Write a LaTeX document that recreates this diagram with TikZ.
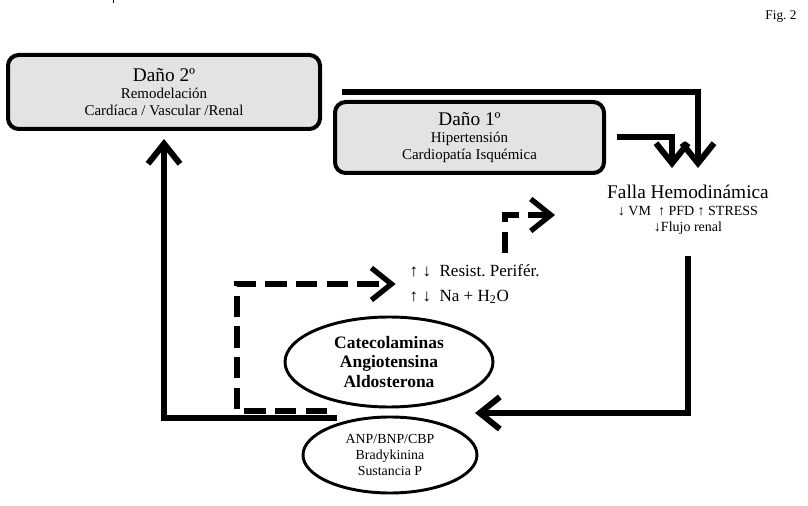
\documentclass[tikz,border=0pt]{standalone}
\usepackage{fontspec}
\setmainfont{Liberation Serif}
\usepackage{tikz}
\usetikzlibrary{shapes.geometric, positioning, arrows.meta}
\newcommand\titlefont{\fontsize{14.5}{16}\selectfont}
\frenchspacing

\begin{document}
\begin{tikzpicture}[x=0.75pt, y=-0.75pt,
    damage/.style={draw, line width=3pt, rounded corners=8pt, fill=black!11, align=center, font=\fontsize{11.2}{13}\selectfont},
    blob/.style={draw, ellipse, line width=2.2pt, align=center, inner sep=0pt},
    flow/.style={line width=4.5pt, -{Straight Barb[length=15pt, width=24pt]}},
    hint/.style={line width=4pt, dash pattern=on 16pt off 7pt, -{Straight Barb[length=15pt, width=24pt]}}]
  \useasboundingbox (0,0) rectangle (808,506);
  \draw[line width=0.6pt] (113,0) -- (113,3);
  \node[font=\fontsize{10}{12}\selectfont] (fig) at (781,17) {Fig. 2};

  \node[damage, minimum width=234pt, minimum height=55.5pt] (d2) at (164,92) {{\titlefont Daño 2º}\\Remodelación\\Cardíaca / Vascular /Renal};
  \node[damage, minimum width=201.75pt, minimum height=53.25pt] (d1) at (469.5,137.5) {{\titlefont Daño 1º}\\Hipertensión\\Cardiopatía Isquémica};
  \node[align=center, font=\fontsize{10.5}{12.5}\selectfont] (falla) at (688,210) {{\titlefont Falla Hemodinámica}\\↓ VM ~↑ PFD ↑ STRESS\\↓Flujo renal};
  \node[anchor=west, align=left, font=\fontsize{12.8}{18.5}\selectfont] (res) at (405,284) {↑ ↓~ Resist. Perifér.\\↑ ↓~ Na + H\textsubscript{2}O};
  \node[blob, minimum width=156pt, minimum height=67.5pt, font=\bfseries\fontsize{13.1}{14.3}\selectfont] (cat) at (389,362) {Catecolaminas\\Angiotensina\\Aldosterona};
  \node[blob, minimum width=130.5pt, minimum height=57pt, font=\fontsize{10.4}{12}\selectfont] (anp) at (390,455) {ANP/BNP/CBP\\Bradykinina\\Sustancia P};

  \coordinate (inA) at (698,168);
  \coordinate (inB) at (672,168);
  \coordinate (inC) at (475,413);
  \coordinate (fromL) at (337,418);
  \coordinate (fromD) at (327,411);
  \coordinate (turnD) at (237,411);
  \coordinate (fromE) at (505,253);
  \coordinate (inE) at (555,215);

  \draw[flow] ([xshift=15pt]d2.east) -| (inA);
  \draw[flow] ([xshift=8pt]d1.east) -| (inB);
  \draw[flow] ([yshift=-12pt]falla.south) |- (inC);
  \draw[flow] (fromL) -| ([yshift=-6pt]d2.south);
  \draw[hint] (fromD) -- (turnD) |- ([xshift=-7pt]res.west);
  \draw[hint] (fromE) |- (inE);
\end{tikzpicture}
\end{document}
